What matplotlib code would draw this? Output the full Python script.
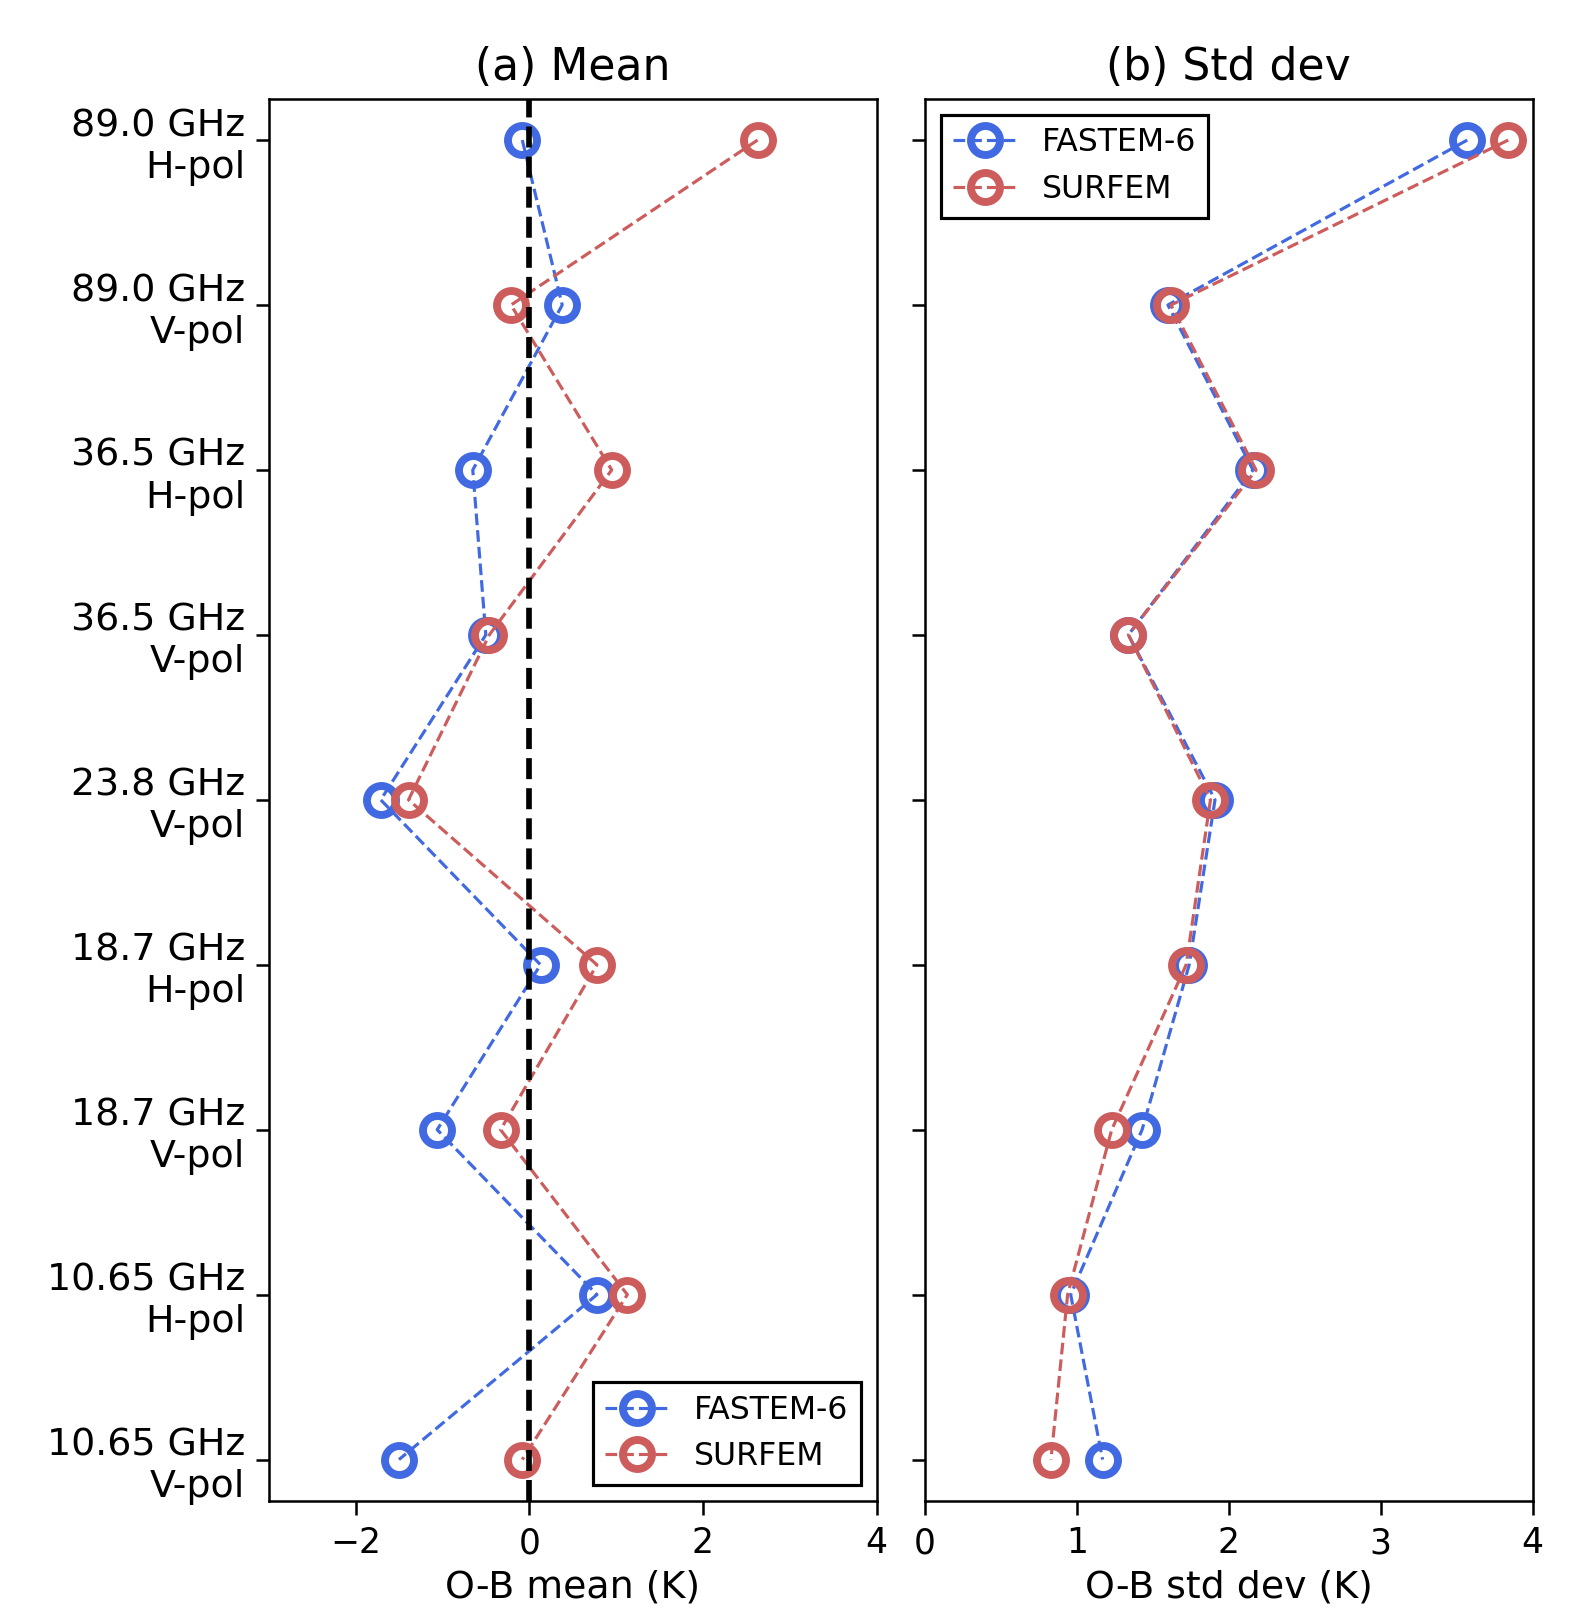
import numpy as np
import matplotlib
matplotlib.use('Agg')
import matplotlib.pyplot as plt

# channel labels, top to bottom
channels = ['89.0 GHz\nH-pol', '89.0 GHz\nV-pol', '36.5 GHz\nH-pol', '36.5 GHz\nV-pol',
            '23.8 GHz\nV-pol', '18.7 GHz\nH-pol', '18.7 GHz\nV-pol', '10.65 GHz\nH-pol',
            '10.65 GHz\nV-pol']

# O-B mean (K)
mean_fastem = [-0.08, 0.38, -0.65, -0.50, -1.71, 0.13, -1.06, 0.78, -1.50]
mean_surfem = [2.63, -0.21, 0.95, -0.46, -1.39, 0.78, -0.33, 1.13, -0.08]

# O-B std dev (K)
std_fastem = [3.57, 1.60, 2.16, 1.34, 1.91, 1.74, 1.43, 0.96, 1.17]
std_surfem = [3.84, 1.62, 2.18, 1.34, 1.88, 1.72, 1.23, 0.94, 0.83]

DPI = 227
fig = plt.figure(figsize=(1579 / DPI, 1615 / DPI), dpi=DPI)
ax1 = fig.add_axes([0.1702, 0.0707, 0.3849, 0.8681])
ax2 = fig.add_axes([0.5857, 0.0707, 0.3849, 0.8681])

y = np.arange(len(channels))
sty = dict(ls='--', lw=1, marker='o', mfc='none', ms=9.2, mew=2.5)

ax1.plot(mean_fastem, y, color='royalblue', label='FASTEM-6', **sty)
ax1.plot(mean_surfem, y, color='indianred', label='SURFEM', **sty)
ax1.axvline(0, color='k', ls='--', lw=1.8)
ax1.set_xlim(-3, 4)
ax1.set_xticks([-2, 0, 2, 4])
ax1.set_yticks(y)
ax1.set_yticklabels(channels, fontsize=12, multialignment='right')
ax1.set_ylim(8.25, -0.25)
ax1.tick_params(axis='x', labelsize=11, length=4.5)
ax1.tick_params(axis='y', length=4)
ax1.set_xlabel('O-B mean (K)', fontsize=12, labelpad=3)
ax1.set_title('(a) Mean', fontsize=14)
ax1.legend(loc='lower right', fancybox=False, edgecolor='k', framealpha=1, fontsize=10)

ax2.plot(std_fastem, y, color='royalblue', label='FASTEM-6', **sty)
ax2.plot(std_surfem, y, color='indianred', label='SURFEM', **sty)
ax2.set_xlim(0, 4)
ax2.set_xticks([0, 1, 2, 3, 4])
ax2.set_yticks(y)
ax2.set_yticklabels([])
ax2.set_ylim(8.25, -0.25)
ax2.tick_params(axis='x', labelsize=11, length=4.5)
ax2.tick_params(axis='y', length=4)
ax2.set_xlabel('O-B std dev (K)', fontsize=12, labelpad=3)
ax2.set_title('(b) Std dev', fontsize=14)
ax2.legend(loc='upper left', fancybox=False, edgecolor='k', framealpha=1, fontsize=10)

plt.savefig('out.png', dpi=DPI)
